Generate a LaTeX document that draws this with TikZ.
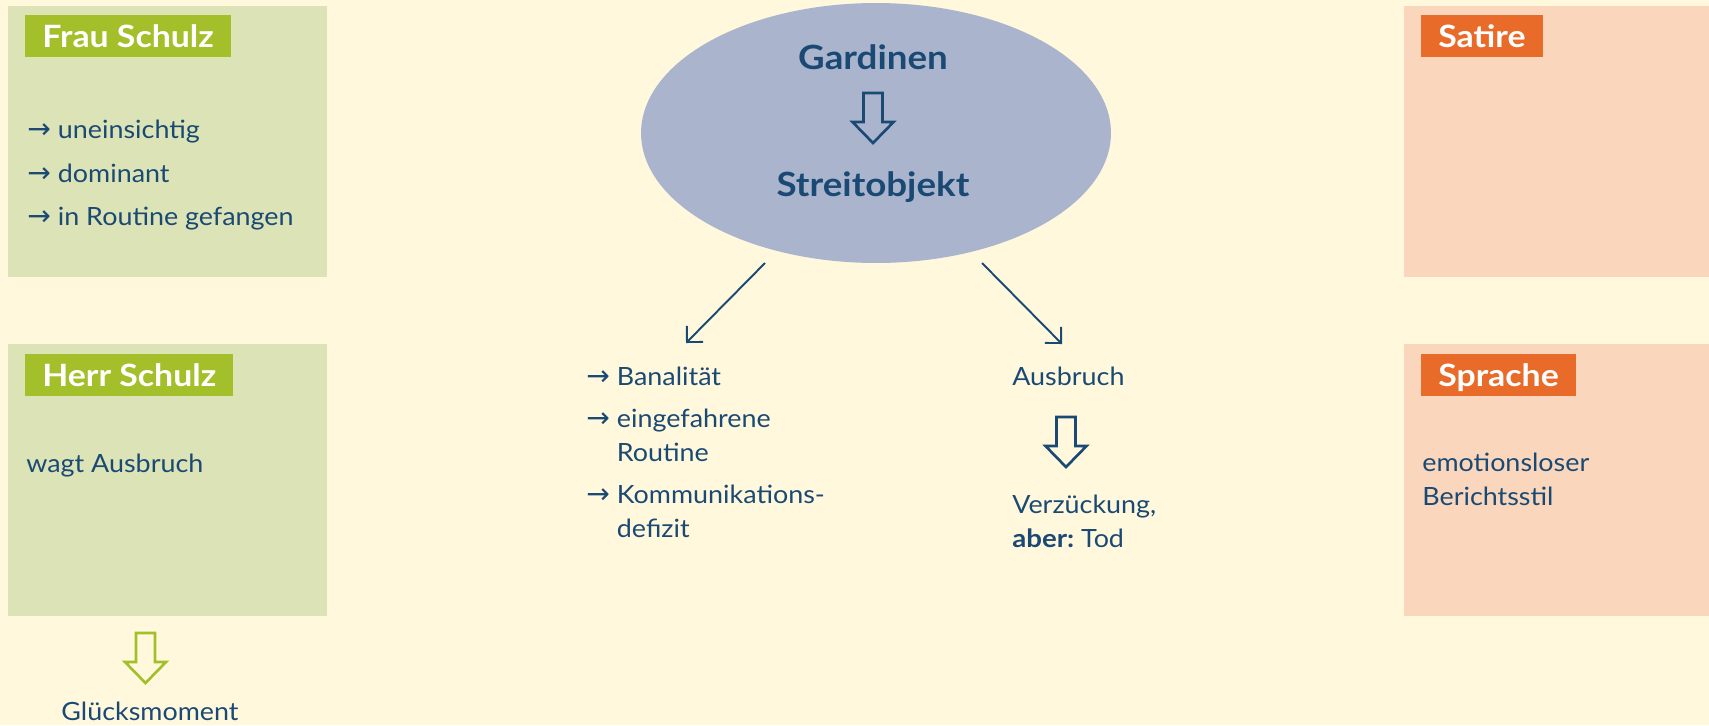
\documentclass[tikz,border=0pt]{standalone}
\usepackage{fontspec}
\setmainfont{Lato}[FakeStretch=1.07, BoldFeatures={FakeStretch=1.10}]
\newfontfamily\symfont{DejaVu Sans}
\usetikzlibrary{arrows.meta,shapes.geometric}
\definecolor{bgcream}{HTML}{FFF8DD}
\definecolor{inkblue}{HTML}{1A4A74}
\definecolor{ovalblue}{HTML}{ABB4CD}
\definecolor{greenpanel}{HTML}{DCE3B6}
\definecolor{greentag}{HTML}{A3BF2A}
\definecolor{orangepanel}{HTML}{F9D6BC}
\definecolor{orangetag}{HTML}{E96B2A}
\newcommand{\arr}{{\symfont\fontsize{16}{18}\selectfont →}\hspace{4pt}}
\tikzset{
  txt/.style={text=inkblue, font=\fontsize{14.3}{18.8}\selectfont\frenchspacing, inner sep=0pt, align=left, anchor=base west},
  headline/.style={text=inkblue, font=\fontsize{19}{22}\selectfont\bfseries, inner sep=0pt, anchor=base},
  tag/.style={anchor=north west, text=white, font=\fontsize{17.5}{20}\selectfont\bfseries,
    minimum height=0.84cm, inner xsep=0.34cm, inner ysep=0pt, text height=12.5pt, text depth=0pt},
  greentagbox/.style={tag, fill=greentag},
  orangetagbox/.style={tag, fill=orangetag},
  thinarrow/.style={draw=inkblue, line width=1.1pt, -{Straight Barb[length=0.23cm, width=0.46cm]}},
  hollow arrow/.pic={
    \draw[line width=1.5pt, line join=miter, pic actions]
      (-9.5,0) -- (9.5,0) -- (9.5,29) -- (20.5,29) -- (0,50) -- (-20.5,29) -- (-9.5,29) -- cycle;
  }
}
\begin{document}
\begin{tikzpicture}[x=0.02cm, y=-0.02cm]
	% background
	\fill[bgcream] (0,0) rectangle (1709,725);
	\useasboundingbox (0,0) rectangle (1709,725);
	% the four panels
	\fill[greenpanel] (8,6) rectangle (327,277);
	\fill[greenpanel] (8,344) rectangle (327,616);
	\fill[orangepanel] (1404,6) rectangle (1709,277);
	\fill[orangepanel] (1404,344) rectangle (1709,616);
	% - Frau Schulz
	\node[greentagbox] (frau) at (25,15) {Frau Schulz};
	\node[txt] (frau1) at (27,138) {\arr uneinsichtig};
	\node[txt] (frau2) at (27,182) {\arr dominant};
	\node[txt] (frau3) at (27,225) {\arr in Routine gefangen};
	% - Herr Schulz
	\node[greentagbox] (herr) at (25,354) {Herr Schulz};
	\node[txt] (herr1) at (26,472) {wagt Ausbruch};
	\pic[draw=greentag] at (145.5,633) {hollow arrow};
	\node[txt, anchor=base] (glueck) at (150,720) {Glücksmoment};
	% - Satire and Sprache
	\node[orangetagbox] (satire) at (1421,15) {Satire};
	\node[orangetagbox] (sprache) at (1421,354) {Sprache};
	\node[txt] (stil) at (1422,505) {emotionsloser\\Berichtsstil};
	% the oval in the middle
	\node[ellipse, fill=ovalblue, minimum width=9.4cm, minimum height=5.2cm, inner sep=0pt] (oval) at (876,133) {};
	\node[headline] (gardinen) at (873,69) {Gardinen};
	\pic[draw=inkblue] at (873,93) {hollow arrow};
	\node[headline] (streit) at (873,196) {Streitobjekt};
	% the two branches
	\coordinate (ovalleft) at (765,263);
	\coordinate (ovalright) at (982,263);
	\coordinate (banal) at (686,343);
	\coordinate (ausb) at (1062,344);
	\draw[thinarrow] (ovalleft) -- (banal);
	\draw[thinarrow] (ovalright) -- (ausb);
	% - left branch (base = last line)
	\node[txt] (list1) at (586,385) {\arr Banalität};
	\node[txt] (list2) at (586,461) {\arr eingefahrene\\\hphantom{\arr}Routine};
	\node[txt] (list3) at (586,537) {\arr Kommunikations-\\\hphantom{\arr}defizit};
	% - right branch
	\node[txt] (ausbruch) at (1012,385) {Ausbruch};
	\pic[draw=inkblue] at (1066,417) {hollow arrow};
	\node[txt] (tod) at (1012,547) {Verzückung,\\\textbf{aber:}\ Tod};
\end{tikzpicture}
\end{document}
